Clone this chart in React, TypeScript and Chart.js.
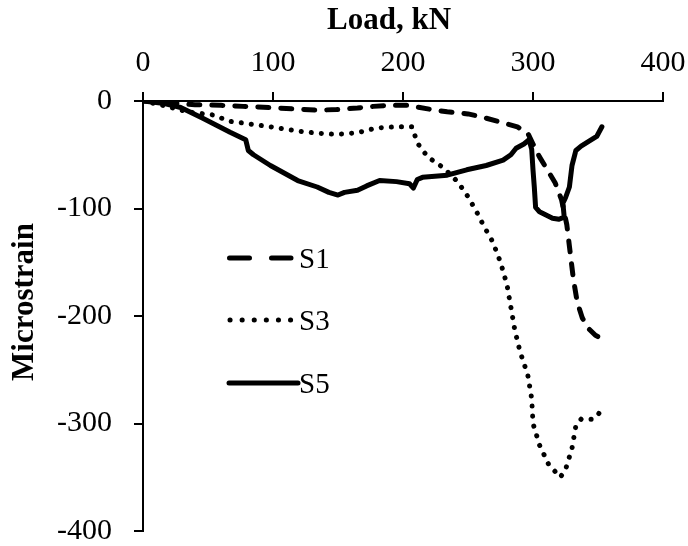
import React, { useEffect, useRef } from "react";
import { Chart, registerables } from "chart.js";

Chart.register(...registerables);

const xTicks = [0, 100, 200, 300, 400];
const yTicks = [0, -100, -200, -300, -400];

const loadS1 = [0, 10, 20, 30, 40, 60, 77, 88, 103, 119, 134, 149, 165, 177, 190, 203, 213, 222, 234, 250, 261, 276, 288, 296, 300, 305, 311, 317, 322, 326, 328, 331, 334, 338, 343, 348, 353];
const strainS1 = [0, -0.5, -1.5, -2.5, -3.5, -4, -5, -5.5, -6.5, -7.5, -8.5, -8, -6.5, -5, -4, -4, -6, -8, -10, -12, -15, -20, -24, -30, -40, -52, -64, -76, -92, -115, -135, -165, -187, -202, -212, -218, -221];

const loadS3 = [0, 15, 34, 54, 67, 80, 98, 119, 134, 149, 165, 180, 195, 207, 211, 219, 231, 242, 250, 257, 262, 269, 275, 280, 283, 286, 290, 296, 299, 300, 305, 312, 321, 325, 330, 333, 337, 346, 350, 353];
const strainS3 = [0, -4, -10, -13, -19, -21, -24, -28, -30, -31, -29.5, -25, -24, -24, -39, -52, -62, -75, -89, -104, -116, -131, -150, -171, -192, -213, -233, -255, -277, -300, -320, -338, -350, -343, -323, -302, -296, -296, -292, -286];

const loadS5 = [0, 15, 29, 46, 67, 79, 81, 85, 98, 119, 134, 143, 150, 155, 165, 172, 182, 195, 205, 208, 211, 215, 234, 249, 264, 277, 283, 287, 293, 297, 299, 300, 301, 302, 305, 310, 315, 320, 324, 323, 325, 328, 330, 333, 337, 341, 349, 353];
const strainS5 = [0, -2, -6, -16, -29, -36, -46, -50, -60, -74, -80, -85, -87.5, -85, -83, -79, -74, -75, -77, -81, -73, -71, -69, -64, -60, -55, -50, -44, -40, -36, -45, -64, -80, -99, -103, -106, -109, -110, -108, -95, -90, -80, -60, -46, -42, -39, -33, -24];

const seriesNames = ["S1", "S3", "S5"];

const FONT = "'Liberation Serif', 'Times New Roman', serif";

const toPts = (xs: number[], ys: number[]) => xs.map((x, i) => ({ x, y: ys[i] }));

const overlayPlugin = {
  id: "overlay",
  afterDraw(chart: any) {
    const ctx = chart.ctx as CanvasRenderingContext2D;
    ctx.save();
    ctx.fillStyle = "#000";
    ctx.strokeStyle = "#000";
    // axis titles
    ctx.font = `bold 31px ${FONT}`;
    ctx.textAlign = "center";
    ctx.textBaseline = "alphabetic";
    ctx.fillText("Load, kN", 389, 29);
    ctx.save();
    ctx.translate(33, 302);
    ctx.rotate(-Math.PI / 2);
    ctx.fillText("Microstrain", 0, 0);
    ctx.restore();

    // legend
    ctx.lineCap = "round";
    ctx.lineWidth = 5;
    ctx.setLineDash([20, 22]);
    ctx.beginPath();
    ctx.moveTo(229.5, 258);
    ctx.lineTo(291, 258);
    ctx.stroke();
    ctx.setLineDash([0.1, 12]);
    ctx.beginPath();
    ctx.moveTo(230, 320);
    ctx.lineTo(291, 320);
    ctx.stroke();
    ctx.setLineDash([]);
    ctx.beginPath();
    ctx.moveTo(229, 383);
    ctx.lineTo(298, 383);
    ctx.stroke();

    ctx.font = `29px ${FONT}`;
    ctx.textAlign = "left";
    ctx.textBaseline = "middle";
    ctx.fillText(seriesNames[0], 299, 260);
    ctx.fillText(seriesNames[1], 299, 322);
    ctx.fillText(seriesNames[2], 299, 385);
    ctx.restore();
  },
};

const zeroPad = (s: any) => {
  s.paddingLeft = 0;
  s.paddingRight = 0;
  s.paddingTop = 0;
  s.paddingBottom = 0;
};

export default function App() {
  const ref = useRef<HTMLCanvasElement | null>(null);

  useEffect(() => {
    document.body.style.margin = "0";
    const canvas = ref.current;
    if (!canvas) return;
    const chart = new Chart(canvas, {
      type: "line",
      data: {
        datasets: [
          {
            label: seriesNames[0],
            data: toPts(loadS1, strainS1),
            borderColor: "#000",
            borderWidth: 5,
            borderDash: [11, 12],
            borderCapStyle: "round",
            borderJoinStyle: "round",
            pointRadius: 0,
            fill: false,
            tension: 0,
          },
          {
            label: seriesNames[1],
            data: toPts(loadS3, strainS3),
            borderColor: "#000",
            borderWidth: 5,
            borderDash: [0.1, 10],
            borderCapStyle: "round",
            borderJoinStyle: "round",
            pointRadius: 0,
            fill: false,
            tension: 0,
          },
          {
            label: seriesNames[2],
            data: toPts(loadS5, strainS5),
            borderColor: "#000",
            borderWidth: 5,
            borderCapStyle: "round",
            borderJoinStyle: "round",
            pointRadius: 0,
            fill: false,
            tension: 0,
          },
        ],
      },
      options: {
        responsive: false,
        animation: false,
        layout: { padding: { left: 0, top: 0, right: 25, bottom: 15 } },
        plugins: {
          legend: { display: false },
          tooltip: { enabled: false },
        },
        scales: {
          x: {
            type: "linear",
            position: "top",
            min: 0,
            max: 400,
            afterBuildTicks: (s: any) => {
              s.ticks = xTicks.map((v) => ({ value: v }));
            },
            afterFit: (s: any) => {
              s.height = 101;
              zeroPad(s);
            },
            ticks: {
              color: "#000",
              font: { family: FONT, size: 30 },
              padding: 11,
              callback: (v: any) => String(v),
            },
            grid: {
              drawOnChartArea: false,
              drawTicks: true,
              tickLength: 9,
              color: "#000",
              lineWidth: 2,
            },
            border: { display: true, color: "#000", width: 2 },
          },
          y: {
            type: "linear",
            position: "left",
            min: -400,
            max: 0,
            afterBuildTicks: (s: any) => {
              s.ticks = yTicks.map((v) => ({ value: v }));
            },
            afterFit: (s: any) => {
              s.width = 143;
              zeroPad(s);
            },
            ticks: {
              color: "#000",
              font: { family: FONT, size: 30 },
              padding: 22,
              callback: (v: any) => String(v),
            },
            grid: {
              drawOnChartArea: false,
              drawTicks: true,
              tickLength: 9,
              color: "#000",
              lineWidth: 2,
            },
            border: { display: true, color: "#000", width: 2 },
          },
        },
      },
      plugins: [overlayPlugin],
    } as any);
    return () => chart.destroy();
  }, []);

  return (
    <div style={{ width: 688, height: 546, background: "#fff" }}>
      <canvas ref={ref} width={688} height={546} style={{ display: "block" }} />
    </div>
  );
}
